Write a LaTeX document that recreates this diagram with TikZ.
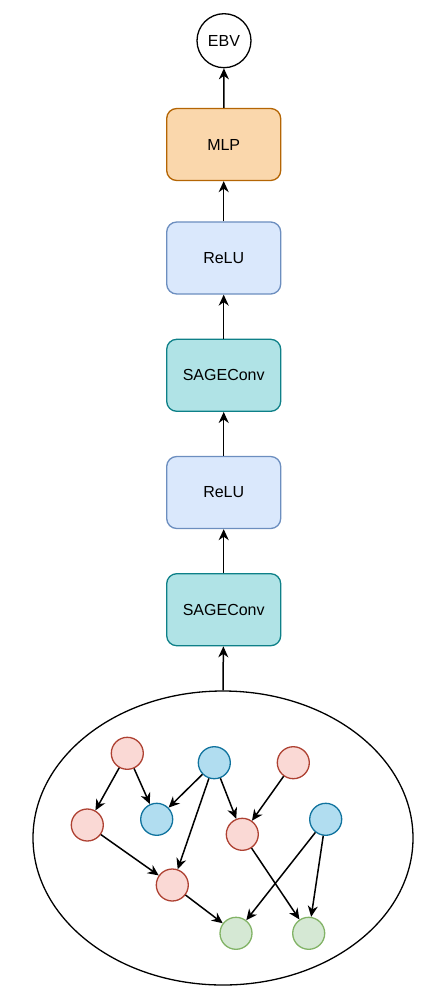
\documentclass[tikz,border=0pt]{standalone}
\usepackage{fontspec}
\setmainfont{Liberation Sans}
\usetikzlibrary{arrows.meta,shapes.geometric}
\definecolor{mlpfill}{HTML}{FAD7AC}\definecolor{mlpdraw}{HTML}{B46504}
\definecolor{relufill}{HTML}{DAE8FC}\definecolor{reludraw}{HTML}{6C8EBF}
\definecolor{sagefill}{HTML}{B0E3E6}\definecolor{sagedraw}{HTML}{0E8088}
\definecolor{redfill}{HTML}{FAD9D5}\definecolor{reddraw}{HTML}{AE4132}
\definecolor{bluefill}{HTML}{B1DDF0}\definecolor{bluedraw}{HTML}{10739E}
\definecolor{greenfill}{HTML}{D5E8D4}\definecolor{greendraw}{HTML}{82B366}
\begin{document}
\begin{tikzpicture}[x=1pt,y=-1pt,
  layer/.style={rectangle,rounded corners=10pt,minimum width=114pt,minimum height=72pt,line width=1.3pt,font=\fontsize{16}{19}\selectfont,inner sep=0pt},
  mlpbox/.style={layer,fill=mlpfill,draw=mlpdraw},
  relubox/.style={layer,fill=relufill,draw=reludraw},
  sagebox/.style={layer,fill=sagefill,draw=sagedraw},
  gnode/.style={circle,minimum size=32pt,inner sep=0pt,line width=1.3pt},
  rnode/.style={gnode,fill=redfill,draw=reddraw},
  bnode/.style={gnode,fill=bluefill,draw=bluedraw},
  gnnode/.style={gnode,fill=greenfill,draw=greendraw},
  arr/.style={-{Stealth[length=11pt,width=10pt,inset=3.5pt]},line width=1.5pt}]
\useasboundingbox (0,0) rectangle (429,1000);
\node[circle,draw,line width=1.3pt,minimum size=54pt,inner sep=0pt,font=\fontsize{16}{19}\selectfont] (ebv) at (224,40.7) {EBV};
\node[mlpbox] (mlp) at (223.7,144.5) {MLP};
\node[relubox] (relu1) at (223.7,258) {ReLU};
\node[sagebox] (sage1) at (223.7,375.3) {SAGEConv};
\node[relubox] (relu2) at (223.7,492.5) {ReLU};
\node[sagebox] (sage2) at (223.7,609.7) {SAGEConv};
\node[ellipse,draw,line width=1.3pt,minimum width=380pt,minimum height=294pt,inner sep=0pt] (graph) at (223,838) {};
\draw[arr] (mlp) -- (ebv);
\draw[arr] (relu1) -- (mlp);
\draw[arr] (sage1) -- (relu1);
\draw[arr] (relu2) -- (sage1);
\draw[arr] (sage2) -- (relu2);
\draw[arr] (graph.north) -- (sage2);
\node[rnode] (r1) at (127.3,753.3) {};
\node[bnode] (b1) at (214.3,762.7) {};
\node[rnode] (r2) at (293.3,762.7) {};
\node[rnode] (r3) at (87.3,825) {};
\node[bnode] (b2) at (156.7,819.3) {};
\node[rnode] (r4) at (242.3,834.3) {};
\node[bnode] (b3) at (325.7,819.3) {};
\node[rnode] (r5) at (172.3,885) {};
\node[gnnode] (g1) at (236,933.3) {};
\node[gnnode] (g2) at (308.7,933.3) {};
\draw[arr] (r1) -- (r3);
\draw[arr] (r1) -- (b2);
\draw[arr] (b1) -- (b2);
\draw[arr] (b1) -- (r5);
\draw[arr] (b1) -- (r4);
\draw[arr] (r2) -- (r4);
\draw[arr] (r3) -- (r5);
\draw[arr] (r5) -- (g1);
\draw[arr] (r4) -- (g2);
\draw[arr] (b3) -- (g1);
\draw[arr] (b3) -- (g2);
\end{tikzpicture}
\end{document}
